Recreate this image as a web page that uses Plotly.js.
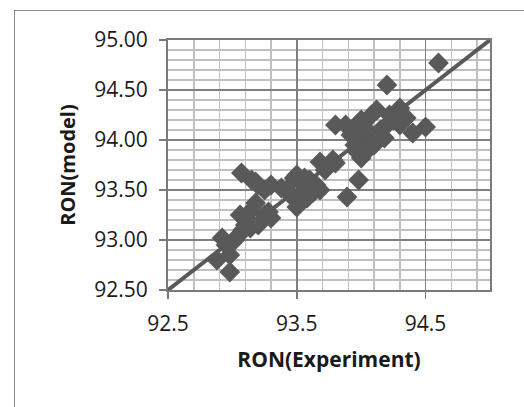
<!DOCTYPE html>
<html>
<head>
<meta charset="utf-8">
<script src="https://cdn.plot.ly/plotly-3.0.1.min.js"></script>
<style>
  html, body { margin: 0; padding: 0; background: #fff; }
  #wrap { position: relative; width: 524px; height: 407px; overflow: hidden; }
  #frame { position: absolute; left: 14px; top: 10px; width: 520px; height: 420px; border: 1px solid #8a8a8a; box-sizing: border-box; pointer-events: none; }
  #chart { position: absolute; left: 0; top: 0; width: 524px; height: 407px; }
</style>
</head>
<body>
<div id="wrap">
  <div id="chart"></div>
  <div id="frame"></div>
</div>
<script>
// Experimental RON values (x) and model RON values (y)
const ronExperiment = [
  92.88, 92.98, 92.98, 92.92, 92.95, 93.05, 93.08, 93.10, 93.06, 93.12,
  93.15, 93.18, 93.20, 93.30, 93.28, 93.25, 93.02, 93.14,
  93.07, 93.15, 93.20, 93.30, 93.25, 93.18,
  93.38, 93.42, 93.48, 93.50, 93.50, 93.52, 93.55, 93.58, 93.60, 93.62,
  93.65, 93.68, 93.68, 93.72, 93.80, 93.78, 93.45, 93.56, 93.63,
  93.89, 93.98,
  93.80, 93.88, 93.92, 93.95, 93.95, 94.00, 94.02, 94.00, 94.05, 94.08,
  94.10, 94.12, 94.15, 94.18, 94.20, 94.25, 94.28, 94.30, 94.30, 94.40,
  94.50, 94.20, 94.60, 93.97, 94.06, 94.22, 94.35
];
const ronModel = [
  92.80, 92.68, 92.85, 93.02, 92.95, 93.05, 93.10, 93.15, 93.25, 93.20,
  93.30, 93.37, 93.15, 93.22, 93.28, 93.25, 93.00, 93.12,
  93.67, 93.60, 93.55, 93.55, 93.50, 93.58,
  93.52, 93.50, 93.62, 93.65, 93.33, 93.45, 93.55, 93.42, 93.60, 93.52,
  93.55, 93.50, 93.78, 93.70, 93.77, 93.80, 93.45, 93.62, 93.48,
  93.43, 93.60,
  94.15, 94.15, 94.05, 93.95, 94.10, 93.82, 94.00, 94.20, 93.90, 94.25,
  93.95, 94.30, 94.10, 94.02, 94.15, 94.20, 94.27, 94.32, 94.15, 94.07,
  94.13, 94.55, 94.77, 93.88, 94.08, 94.25, 94.22
];
// Parity (y = x) line end points
const parityLine = [92.5, 95.0];
const xTickVals = [92.5, 93.5, 94.5];
const yTickVals = [92.5, 93.0, 93.5, 94.0, 94.5, 95.0];

const grey = '#595959';
const traces = [
  {
    x: ronExperiment, y: ronModel, type: 'scatter', mode: 'markers',
    marker: { symbol: 'diamond', size: 16, color: grey, line: { width: 0 } },
    hoverinfo: 'x+y', showlegend: false
  },
  {
    x: parityLine, y: parityLine, type: 'scatter', mode: 'lines',
    line: { color: grey, width: 4 }, showlegend: false
  }
];

const font = 'Open Sans, Liberation Sans, sans-serif';
const layout = {
  width: 524, height: 407,
  margin: { l: 168, r: 34, t: 40, b: 117 },
  paper_bgcolor: 'rgba(0,0,0,0)', plot_bgcolor: '#fff',
  showlegend: false,
  font: { family: font, color: '#1a1a1a', size: 21 },
  xaxis: {
    range: [92.5, 95.0], tickvals: xTickVals, ticktext: xTickVals.map(v => v.toFixed(1)),
    showgrid: true, gridcolor: '#808080', gridwidth: 1.5,
    minor: { dtick: 0.2, tick0: 92.5, showgrid: true, gridcolor: '#c0c0c0', gridwidth: 1.5, ticks: '' },
    showline: true, linecolor: '#7a7a7a', linewidth: 2, mirror: true,
    ticks: 'outside', ticklen: 7, tickcolor: '#7a7a7a', tickwidth: 1.5,
    tickfont: { size: 21, family: font, color: '#1a1a1a' },
    ticklabelstandoff: 7,
    zeroline: false, automargin: false,
    title: { text: '<b>RON(Experiment)</b>', font: { size: 21, family: font, color: '#1a1a1a' }, standoff: 16 }
  },
  yaxis: {
    range: [92.5, 95.0], tickvals: yTickVals, ticktext: yTickVals.map(v => v.toFixed(2)),
    showgrid: true, gridcolor: '#808080', gridwidth: 1.5,
    minor: { dtick: 0.1, tick0: 92.5, showgrid: true, gridcolor: '#c0c0c0', gridwidth: 1.5, ticks: '' },
    showline: true, linecolor: '#7a7a7a', linewidth: 2, mirror: true,
    ticks: 'outside', ticklen: 7, tickcolor: '#7a7a7a', tickwidth: 1.5,
    tickfont: { size: 21, family: font, color: '#1a1a1a' },
    ticklabelstandoff: 7,
    zeroline: false, automargin: false,
    title: { text: '<b>RON(model)</b>', font: { size: 20, family: font, color: '#1a1a1a' }, standoff: 13 }
  }
};

Plotly.newPlot('chart', traces, layout, { staticPlot: true, displayModeBar: false });
</script>
</body>
</html>
